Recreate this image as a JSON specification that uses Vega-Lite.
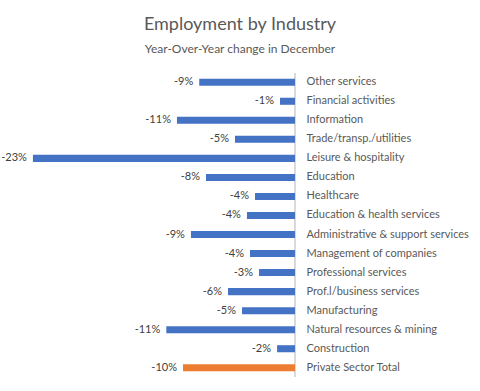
{
  "$schema": "https://vega.github.io/schema/vega-lite/v6.json",
  "autosize": {"type": "none"},
  "padding": {"left": 15, "top": 73, "right": 185, "bottom": 14},
  "width": 280,
  "height": 304,
  "background": "white",
  "title": {
    "text": "Employment by Industry",
    "subtitle": "Year-Over-Year change in December",
    "anchor": "middle",
    "dx": 85,
    "font": "Lato",
    "fontSize": 18,
    "fontWeight": "normal",
    "color": "#595959",
    "subtitleFont": "Lato",
    "subtitleFontSize": 12,
    "subtitleColor": "#595959",
    "subtitlePadding": 10,
    "offset": 18
  },
  "data": {
    "values": [
      {"industry": "Other services", "change": -0.0855, "group": "Industry"},
      {"industry": "Financial activities", "change": -0.0134, "group": "Industry"},
      {"industry": "Information", "change": -0.1054, "group": "Industry"},
      {"industry": "Trade/transp./utilities", "change": -0.0536, "group": "Industry"},
      {"industry": "Leisure & hospitality", "change": -0.234, "group": "Industry"},
      {"industry": "Education", "change": -0.0795, "group": "Industry"},
      {"industry": "Healthcare", "change": -0.0357, "group": "Industry"},
      {"industry": "Education & health services", "change": -0.0429, "group": "Industry"},
      {"industry": "Administrative & support services", "change": -0.0929, "group": "Industry"},
      {"industry": "Management of companies", "change": -0.0402, "group": "Industry"},
      {"industry": "Professional services", "change": -0.0321, "group": "Industry"},
      {"industry": "Prof.l/business services", "change": -0.0598, "group": "Industry"},
      {"industry": "Manufacturing", "change": -0.0473, "group": "Industry"},
      {"industry": "Natural resources & mining", "change": -0.1149, "group": "Industry"},
      {"industry": "Construction", "change": -0.016, "group": "Industry"},
      {"industry": "Private Sector Total", "change": -0.10, "group": "Total"}
    ]
  },
  "encoding": {
    "y": {
      "field": "industry",
      "type": "nominal",
      "sort": null,
      "scale": {"paddingInner": 0.63, "paddingOuter": 0.3},
      "axis": {
        "orient": "right",
        "title": null,
        "ticks": false,
        "domain": false,
        "labelPadding": 11,
        "labelFont": "Lato",
        "labelFontSize": 11,
        "labelColor": "#595959",
        "labelLimit": 300
      }
    },
    "x": {
      "field": "change",
      "type": "quantitative",
      "scale": {"domain": [-0.25, 0], "nice": false, "zero": true},
      "axis": null
    }
  },
  "layer": [
    {
      "mark": {"type": "rule", "color": "#D9D9D9", "strokeWidth": 1},
      "encoding": {
        "x": {"datum": 0, "type": "quantitative"},
        "y": null
      }
    },
    {
      "mark": {"type": "bar"},
      "encoding": {
        "color": {
          "field": "group",
          "type": "nominal",
          "scale": {"domain": ["Industry", "Total"], "range": ["#4472C4", "#ED7D31"]},
          "legend": null
        }
      }
    },
    {
      "mark": {"type": "text", "align": "right", "dx": -6, "font": "Lato", "fontSize": 11, "color": "#404040"},
      "encoding": {
        "text": {"field": "change", "type": "quantitative", "format": ".0%"}
      }
    }
  ],
  "config": {
    "view": {"stroke": null},
    "locale": {"number": {"decimal": ".", "thousands": ",", "grouping": [3], "currency": ["$", ""], "minus": "-"}}
  }
}
